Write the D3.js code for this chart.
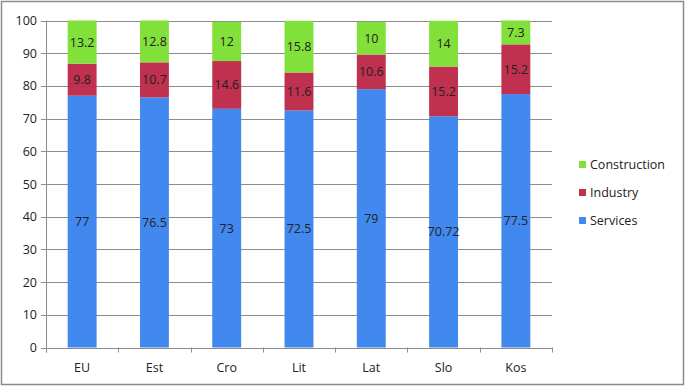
<!DOCTYPE html>
<html>
<head>
<meta charset="utf-8">
<script src="https://cdn.jsdelivr.net/npm/d3@7"></script>
<style>
  body { margin: 0; background: #fff; }
  text { font-family: "Open Sans", "Noto Sans", sans-serif; }
</style>
</head>
<body>
<div id="container"></div>
<script>
const width = 685, height = 386;

// Employment structure by sector (%)
const categories = ["EU", "Est", "Cro", "Lit", "Lat", "Slo", "Kos"];
const services     = [77, 76.5, 73, 72.5, 79, 70.72, 77.5];
const industry     = [9.8, 10.7, 14.6, 11.6, 10.6, 15.2, 15.2];
const construction = [13.2, 12.8, 12, 15.8, 10, 14, 7.3];
const seriesNames  = ["Services", "Industry", "Construction"];
const yTicks = [0, 10, 20, 30, 40, 50, 60, 70, 80, 90, 100];

const colors = { Services: "#4189ee", Industry: "#c0304f", Construction: "#82e03a" };

const x0 = 46, x1 = 552, yTop = 20.5, yBot = 347.5;

const svg = d3.select("#container").append("svg")
  .attr("width", width).attr("height", height);

// outer frame
svg.append("rect")
  .attr("x", 1.5).attr("y", 1.5)
  .attr("width", width - 3).attr("height", height - 3)
  .attr("fill", "#fff").attr("stroke", "#8c8c8c").attr("stroke-width", 1.5);

const xScale = d3.scaleBand().domain(categories).range([x0, x1]).paddingInner(0.6).paddingOuter(0.3);
const xBand = d3.scaleBand().domain(categories).range([x0, x1]);
const yScale = d3.scaleLinear().domain([0, 100]).range([yBot, yTop]);

// grid lines
yTicks.forEach(v => {
  svg.append("line")
    .attr("x1", x0 - 5).attr("x2", x1)
    .attr("y1", Math.round(yScale(v)) + 0.5).attr("y2", Math.round(yScale(v)) + 0.5)
    .attr("stroke", "#8c8c8c").attr("stroke-width", 1);
  svg.append("text")
    .attr("x", x0 - 9).attr("y", yScale(v) + 4.5)
    .attr("text-anchor", "end").attr("fill", "#222")
    .style("font-size", "12.5px")
    .text(v);
});

// axes lines
svg.append("line").attr("x1", x0 + 0.5).attr("x2", x0 + 0.5)
  .attr("y1", yTop).attr("y2", yBot + 5).attr("stroke", "#8c8c8c");
categories.concat([null]).forEach((c, i) => {
  const xp = Math.round(x0 + i * xBand.bandwidth()) + 0.5;
  svg.append("line").attr("x1", xp).attr("x2", xp)
    .attr("y1", yBot).attr("y2", yBot + 5).attr("stroke", "#8c8c8c");
});

// stacked data
const rows = categories.map((c, i) => ({
  cat: c, Services: services[i], Industry: industry[i], Construction: construction[i]
}));
const stack = d3.stack().keys(seriesNames)(rows);

stack.forEach(layer => {
  const key = layer.key;
  layer.forEach(d => {
    const cat = d.data.cat;
    svg.append("rect")
      .attr("x", xScale(cat)).attr("width", xScale.bandwidth())
      .attr("y", yScale(d[1])).attr("height", yScale(d[0]) - yScale(d[1]))
      .attr("fill", colors[key]);
    svg.append("text")
      .attr("x", xScale(cat) + xScale.bandwidth() / 2)
      .attr("y", (yScale(d[0]) + yScale(d[1])) / 2 + 4.5)
      .attr("text-anchor", "middle").attr("fill", "#222")
      .style("font-size", "12.5px")
      .text(d.data[key]);
  });
});

// category labels
categories.forEach(c => {
  svg.append("text")
    .attr("x", xBand(c) + xBand.bandwidth() / 2).attr("y", yBot + 24)
    .attr("text-anchor", "middle").attr("fill", "#222")
    .style("font-size", "12.5px")
    .text(c);
});

// legend
const legend = ["Construction", "Industry", "Services"];
legend.forEach((k, i) => {
  const ly = 165 + i * 28;
  svg.append("rect").attr("x", 579).attr("y", ly - 4).attr("width", 7).attr("height", 7)
    .attr("fill", colors[k]);
  svg.append("text").attr("x", 590).attr("y", ly + 4)
    .attr("fill", "#222").style("font-size", "12.5px").text(k);
});
</script>
</body>
</html>
